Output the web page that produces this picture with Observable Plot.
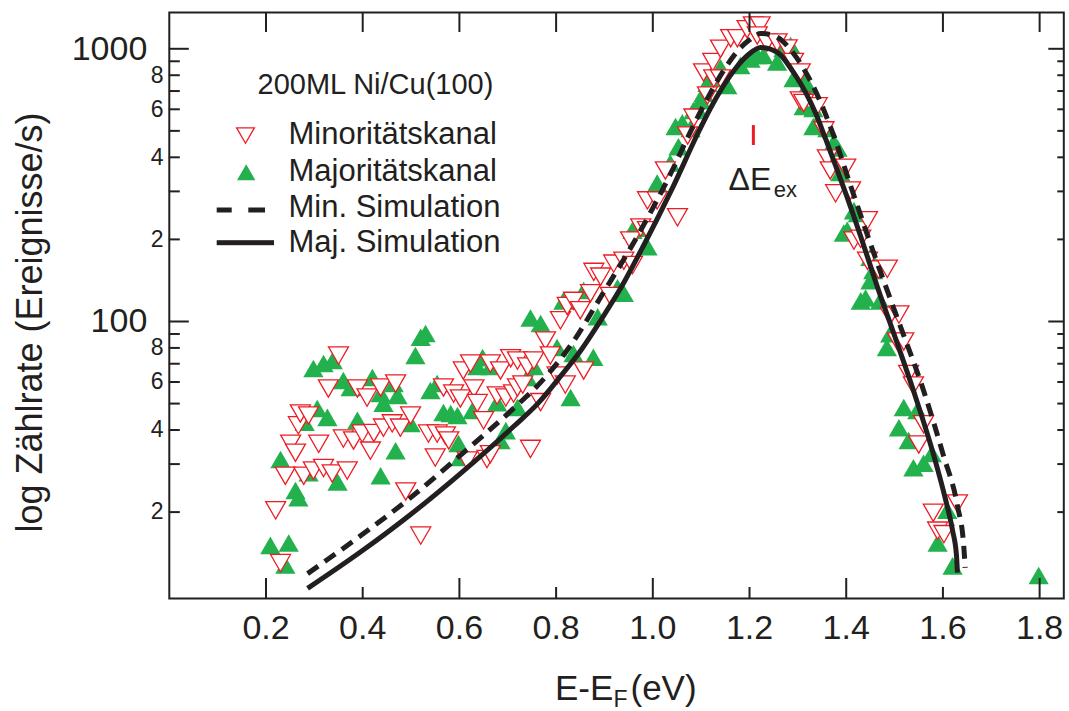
<!DOCTYPE html>
<html><head><meta charset="utf-8">
<script src="https://cdn.jsdelivr.net/npm/d3@7"></script>
<script src="https://cdn.jsdelivr.net/npm/@observablehq/plot@0.6"></script>
<style>body{margin:0;background:#fff}</style>
</head><body><div id="chart"></div>
<script>
// Majoritätskanal (green, filled up-triangles)
const majX = [0.209,0.230,0.240,0.247,0.261,0.267,0.280,0.288,0.298,0.306,0.319,0.327,0.338,0.348,0.360,0.375,0.389,0.420,0.437,0.443,0.437,0.464,0.472,0.468,0.499,0.509,0.520,0.530,0.540,0.554,0.567,0.582,0.596,0.598,0.602,0.627,0.637,0.648,0.664,0.678,0.685,0.696,0.720,0.741,0.747,0.754,0.768,0.802,0.815,0.830,0.836,0.857,0.877,0.886,0.927,0.940,0.958,0.968,0.989,1.009,1.036,1.047,1.053,1.061,1.078,1.084,1.092,1.099,1.105,1.113,1.119,1.140,1.154,1.181,1.202,1.216,1.229,1.257,1.270,1.285,1.291,1.305,1.312,1.320,1.332,1.332,1.340,1.361,1.374,1.382,1.388,1.395,1.402,1.416,1.424,1.430,1.440,1.450,1.450,1.456,1.470,1.484,1.491,1.509,1.519,1.529,1.539,1.547,1.560,1.577,1.589,1.609,1.620,1.798];
const majY = [15.1,31.2,12.8,15.4,24.0,22.6,42.7,27.9,67.2,48.0,70.1,44.5,71.9,25.8,60.8,57.3,43.4,62.3,54.4,50.2,27.2,59.2,53.5,33.6,42.3,75.0,87.5,90.3,55.8,59.2,46.4,46.0,45.2,35.7,31.7,47.2,68.4,73.7,68.4,50.4,36.6,39.8,48.4,62.3,103,68.4,98.3,80.3,119,52.6,76.3,130,73.9,104,133,127,216,220,188,322,381,519,437,535,510,594,604,646,687,748,778,852,733,869,918,945,945,894,1003,1028,778,798,615,733,604,519,535,510,453,433,352,211,216,255,249,119,122,172,141,154,119,80.3,90.2,40.8,48.4,36.6,29.1,47.2,30.2,32.8,15.4,20.3,12.7,11.7];

// Minoritätskanal (red, open down-triangles)
const minX = [0.220,0.230,0.240,0.251,0.261,0.267,0.271,0.278,0.288,0.298,0.309,0.319,0.329,0.337,0.350,0.360,0.368,0.381,0.389,0.399,0.409,0.416,0.423,0.437,0.443,0.461,0.468,0.478,0.489,0.499,0.520,0.536,0.550,0.554,0.567,0.571,0.578,0.588,0.602,0.608,0.616,0.623,0.630,0.637,0.650,0.657,0.664,0.664,0.678,0.685,0.696,0.706,0.712,0.720,0.720,0.731,0.741,0.747,0.754,0.768,0.778,0.788,0.802,0.809,0.819,0.823,0.836,0.850,0.857,0.871,0.878,0.892,0.912,0.919,0.940,0.954,0.958,0.975,0.989,0.989,1.009,1.026,1.051,1.072,1.085,1.105,1.113,1.124,1.126,1.140,1.140,1.161,1.175,1.195,1.208,1.222,1.216,1.236,1.257,1.278,1.291,1.305,1.305,1.312,1.340,1.354,1.361,1.367,1.378,1.399,1.409,1.416,1.430,1.444,1.444,1.467,1.485,1.491,1.509,1.506,1.519,1.529,1.539,1.550,1.560,1.580,1.589,1.602,1.630];
const minY = [20.3,13.0,27.2,35.6,33.0,41.6,46.0,27.2,45.2,28.4,35.6,29.0,56.8,27.7,75.0,37.2,28.4,36.6,56.8,38.8,52.6,33.6,39.0,57.3,40.8,42.3,59.2,40.8,23.8,45.2,16.4,38.8,31.7,38.8,57.3,38.2,36.6,54.4,52.2,66.1,30.9,70.1,56.8,50.2,43.4,31.3,70.1,32.6,53.5,66.1,52.6,73.3,54.4,71.9,57.3,58.7,68.4,34.1,71.9,50.6,85.2,75.0,63.4,101,58.7,114,119,110,66.1,127,152,146,124,163,167,198,161,221,216,278,278,358,241,481,559,819,674,894,778,1000,778,1093,1093,1180,1217,1217,1119,1055,1055,1003,894,819,646,633,615,502,396,358,295,366,302,198,201,235,167,155,156,105,106,84.5,84.5,64.2,58.2,35.4,42.0,19.9,17.1,16.6,21.5];

// Simulations
const minSimX = [0.286,0.396,0.499,0.602,0.712,0.768,0.830,0.898,0.975,1.037,1.084,1.115,1.144,1.171,1.198,1.223,1.250,1.291,1.332,1.374,1.409,1.450,1.506,1.560,1.601,1.630,1.643,1.646];
const minSimY = [11.9,16.4,22.6,32.3,48.0,59.8,81.7,127.7,216,349,523,668,819,961,1072,1138,1119,961,727,481,315,193,102.6,55.8,32.3,21.1,15.1,12.5];
const majSimX = [0.286,0.396,0.499,0.602,0.712,0.762,0.809,0.851,0.892,0.933,0.981,1.043,1.093,1.119,1.144,1.171,1.198,1.223,1.258,1.291,1.316,1.337,1.357,1.378,1.399,1.430,1.465,1.502,1.539,1.581,1.605,1.620,1.628,1.630];
const majSimY = [10.5,14.3,19.6,27.7,41.2,50.0,62.9,78.3,100.8,132,190,315,489,604,721,847,953,1011,969,819,692,579,469,373,295,205,133,86.6,55.8,32.3,22.4,17.1,13.9,12.0];

// Exchange splitting marker
const exSplitX = [1.208];
const exSplitLo = [442];
const exSplitHi = [523];

// Ticks and labels
const xMajorTicks = [0.2,0.6,1.0,1.4,1.8];
const xMinorTicks = [0.4,0.8,1.2,1.6];
const xTopTicks = [0.2,0.4,0.6,0.8,1.0,1.2,1.4,1.6,1.8];
const xTickLabels = [0.2,0.4,0.6,0.8,1.0,1.2,1.4,1.6,1.8];
const yMajorTicks = [100,1000];
const yMinorTicks = [20,30,40,50,60,70,80,90,200,300,400,500,600,700,800,900];
const yMinorLabels = [20,40,60,80,200,400,600,800];

const legendTitle = "200ML Ni/Cu(100)";
const legendNames = ["Minoritätskanal","Majoritätskanal","Min. Simulation","Maj. Simulation"];
const legendBaselines = [143, 180, 216.7, 251.7];

const INK = "#231f20", RED = "#ed1c24", GREEN = "#22b14c";
const W = 1069, H = 711, ML = 168.8, MR = 5.7, MT = 12, MB = 113;
const FW = W - ML - MR, FH = H - MT - MB;

const majority = majX.map((x, i) => ({x, y: majY[i]}));
const minority = minX.map((x, i) => ({x, y: minY[i]}));
const minSim = minSimX.map((x, i) => ({x, y: minSimY[i]}));
const majSim = majSimX.map((x, i) => ({x, y: majSimY[i]}));
const exSplit = exSplitX.map((x, i) => ({x, y1: exSplitLo[i], y2: exSplitHi[i]}));

function tri(down) {
  return {draw(context, size) {
    const r = Math.sqrt(size / Math.PI);
    const s = r * 2.7, h = s * Math.sqrt(3) / 2;
    const a = down ? h / 2 : -h / 2;
    context.moveTo(0, a);
    context.lineTo(-s / 2, -a);
    context.lineTo(s / 2, -a);
    context.closePath();
  }};
}
const triUp = tri(false), triDown = tri(true);

const txt = (s, o) => Plot.text([s], {fill: INK, ...o});

const chart = Plot.plot({
  width: W, height: H,
  marginLeft: ML, marginRight: MR, marginTop: MT, marginBottom: MB,
  x: {domain: [0, 1.85], axis: null},
  y: {type: "log", domain: [9.643, 1358.6], axis: null},
  style: {fontFamily: "'Liberation Sans', Arial, Helvetica, sans-serif", background: "white", color: INK},
  marks: [
    // data
    Plot.dot(majority, {x: "x", y: "y", symbol: triUp, r: 7.5, fill: GREEN}),
    Plot.dot(minority, {x: "x", y: "y", symbol: triDown, r: 7.4, fill: "white", stroke: RED, strokeWidth: 1.3}),
    Plot.line(minSim, {x: "x", y: "y", stroke: INK, strokeWidth: 5, strokeDasharray: "13,8", strokeLinecap: "butt", curve: "monotone-x"}),
    Plot.line(majSim, {x: "x", y: "y", stroke: INK, strokeWidth: 5, strokeLinecap: "butt", curve: "monotone-x"}),
    Plot.ruleX(exSplit, {x: "x", y1: "y1", y2: "y2", stroke: RED, strokeWidth: 3}),
    // frame and ticks
    Plot.frame({stroke: INK, strokeWidth: 2}),
    Plot.ruleX(xMajorTicks, {x: d => d, insetTop: FH - 20, stroke: INK, strokeWidth: 2}),
    Plot.ruleX(xMinorTicks, {x: d => d, insetTop: FH - 11, stroke: INK, strokeWidth: 2}),
    Plot.ruleX(xTopTicks, {x: d => d, insetBottom: FH - 20, stroke: INK, strokeWidth: 2}),
    Plot.ruleY(yMajorTicks, {y: d => d, insetRight: FW - 20, stroke: INK, strokeWidth: 2}),
    Plot.ruleY(yMinorTicks, {y: d => d, insetRight: FW - 11, stroke: INK, strokeWidth: 2}),
    Plot.ruleY(yMajorTicks, {y: d => d, insetLeft: FW - 15, stroke: INK, strokeWidth: 2}),
    Plot.ruleY(yMinorTicks, {y: d => d, insetLeft: FW - 6, stroke: INK, strokeWidth: 2}),
    // tick labels
    Plot.text(xTickLabels, {x: d => d, text: d => d.toFixed(1), frameAnchor: "bottom", textAnchor: "middle", lineAnchor: "bottom", dy: 40, fontSize: 34, fill: INK}),
    Plot.text(yMajorTicks, {y: d => d, text: d => String(d), frameAnchor: "left", textAnchor: "end", lineAnchor: "middle", dx: -22, fontSize: 34, fill: INK}),
    Plot.text(yMinorLabels, {y: d => d, text: d => String(d)[0], frameAnchor: "left", textAnchor: "end", lineAnchor: "middle", dx: -5.8, fontSize: 23, fill: INK}),
    // axis titles
    txt("log Zählrate (Ereignisse/s)", {frameAnchor: "left", rotate: -90, textAnchor: "middle", lineAnchor: "middle", dx: -138.6, dy: 17, fontSize: 36}),
    txt("E-E", {frameAnchor: "bottom", textAnchor: "start", lineAnchor: "bottom", dx: 554.5 - (ML + FW / 2), dy: 101, fontSize: 35}),
    txt("F", {frameAnchor: "bottom", textAnchor: "start", lineAnchor: "bottom", dx: 613 - (ML + FW / 2), dy: 108, fontSize: 23}),
    txt("(eV)", {frameAnchor: "bottom", textAnchor: "start", lineAnchor: "bottom", dx: 630 - (ML + FW / 2), dy: 101, fontSize: 35}),
    // annotation ΔE_ex
    txt("ΔE", {frameAnchor: "top-left", textAnchor: "start", lineAnchor: "bottom", dx: 728 - ML, dy: 189.3 - MT, fontSize: 32}),
    txt("ex", {frameAnchor: "top-left", textAnchor: "start", lineAnchor: "bottom", dx: 773.3 - ML, dy: 196.7 - MT, fontSize: 22}),
    // legend
    txt(legendTitle, {frameAnchor: "top-left", textAnchor: "start", lineAnchor: "bottom", dx: 257 - ML, dy: 93.5 - MT, fontSize: 29}),
    ...legendNames.map((name, i) => txt(name, {frameAnchor: "top-left", textAnchor: "start", lineAnchor: "bottom", dx: 288 - ML, dy: legendBaselines[i] - MT, fontSize: 31})),
    Plot.dot([0], {frameAnchor: "top-left", dx: 245 - ML, dy: 135 - MT, symbol: triDown, r: 6.6, fill: "white", stroke: RED, strokeWidth: 1.3}),
    Plot.dot([0], {frameAnchor: "top-left", dx: 245.7 - ML, dy: 171.7 - MT, symbol: triUp, r: 6.8, fill: GREEN}),
    Plot.rect([0], {insetLeft: 216.7 - ML, insetRight: ML + FW - 231.7, insetTop: 207.5 - MT, insetBottom: MT + FH - 212.5, fill: INK}),
    Plot.rect([0], {insetLeft: 248.3 - ML, insetRight: ML + FW - 265, insetTop: 207.5 - MT, insetBottom: MT + FH - 212.5, fill: INK}),
    Plot.rect([0], {insetLeft: 216.7 - ML, insetRight: ML + FW - 274, insetTop: 240.2 - MT, insetBottom: MT + FH - 245.2, fill: INK})
  ]
});
document.getElementById("chart").appendChild(chart);
</script>
</body></html>
